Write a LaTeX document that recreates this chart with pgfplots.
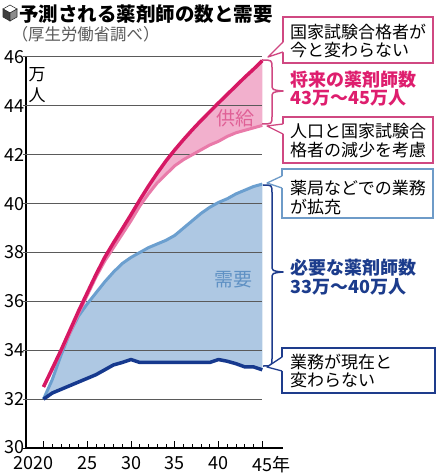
\documentclass[border=0pt]{standalone}
\usepackage{fontspec}
\setmainfont{Noto Sans CJK JP}
\usepackage{pgfplots}
\usepackage{pgfplotstable}
\pgfplotsset{compat=1.18}
\usepgfplotslibrary{fillbetween}

\definecolor{supHi}{RGB}{214,24,100}
\definecolor{supLo}{RGB}{233,122,169}
\definecolor{supFill}{RGB}{242,176,205}
\definecolor{demHi}{RGB}{107,159,207}
\definecolor{demLo}{RGB}{22,57,142}
\definecolor{demFill}{RGB}{174,200,227}
\definecolor{pinkBox}{RGB}{208,72,130}
\definecolor{blueBox}{RGB}{110,155,200}
\definecolor{navyBox}{RGB}{30,60,140}
\definecolor{pinkTxt}{RGB}{222,30,110}
\definecolor{navyTxt}{RGB}{28,60,140}
\definecolor{gridc}{RGB}{90,90,90}

% supply (pharmacists), 10,000 persons
\pgfplotstableread{
year hi lo
2020 32.5 32.5
2021 33.25 33.2
2022 34.0 33.95
2023 34.8 34.7
2024 35.6 35.5
2025 36.35 36.25
2026 37.1 37.0
2027 37.8 37.65
2028 38.4 38.2
2029 38.97 38.75
2030 39.55 39.3
2031 40.15 39.9
2032 40.72 40.4
2033 41.25 40.85
2034 41.75 41.2
2035 42.2 41.55
2036 42.62 41.8
2037 43.02 42.0
2038 43.4 42.2
2039 43.76 42.4
2040 44.12 42.55
2041 44.47 42.75
2042 44.82 42.9
2043 45.17 43.0
2044 45.5 43.1
2045 45.85 43.2
}\supply

% demand
\pgfplotstableread{
year hi lo
2020 32.0 32.0
2021 32.8 32.25
2022 33.8 32.4
2023 34.7 32.55
2024 35.4 32.7
2025 35.9 32.85
2026 36.35 33.0
2027 36.8 33.2
2028 37.2 33.4
2029 37.55 33.5
2030 37.8 33.62
2031 38.0 33.5
2032 38.2 33.5
2033 38.35 33.5
2034 38.5 33.5
2035 38.7 33.5
2036 39.0 33.5
2037 39.3 33.5
2038 39.6 33.5
2039 39.85 33.5
2040 40.05 33.62
2041 40.2 33.55
2042 40.4 33.45
2043 40.55 33.32
2044 40.7 33.32
2045 40.8 33.2
}\demand

\newcommand{\fs}[1]{\fontsize{#1bp}{#1bp}\selectfont}

\begin{document}
\begin{tikzpicture}
\begin{axis}[
  at={(26bp,-448bp)}, anchor=south west,
  scale only axis, width=257bp, height=391bp,
  xmin=2018, xmax=2047.37, ymin=30, ymax=46,
  axis x line*=bottom, axis y line*=left,
  axis line style={black, line width=1.2bp, -},
  clip=false,
  xtick={2020,2025,...,2045},
  minor xtick={2021,2022,2023,2024,2026,2027,2028,2029,2031,2032,2033,2034,2036,2037,2038,2039,2041,2042,2043,2044},
  xticklabels={\llap{20}20,25,30,35,40,45\rlap{年}},
  xtick align=inside,
  major tick length=7bp, minor tick length=4bp,
  xtick style={black, line width=1bp},
  ytick={30,32,...,46},
  yticklabels={\raisebox{3bp}{30},32,34,36,38,40,42,44,46},
  ytick style={draw=none},
  tick label style={font=\fs{18}, black},
  yticklabel style={inner xsep=1bp, inner ysep=0bp},
  xticklabel style={inner ysep=0bp, yshift=-8bp},
  /pgf/number format/assume math mode=true,
]
\addplot[draw=none, name path=dhi, forget plot] table[x=year, y=hi] {\demand};
\addplot[draw=none, name path=dlo, forget plot] table[x=year, y=lo] {\demand};
\addplot[demFill] fill between[of=dhi and dlo];
\addplot[draw=none, name path=shi, forget plot] table[x=year, y=hi] {\supply};
\addplot[draw=none, name path=slo, forget plot] table[x=year, y=lo] {\supply};
\addplot[supFill] fill between[of=shi and slo];

\pgfplotsinvokeforeach{32,34,...,46}{
  \draw[gridc, line width=1bp] (axis cs:2017.66,#1) -- (axis cs:2045,#1);
}
\draw[black, line width=1bp] (axis cs:2017.66,30) -- (axis cs:2018,30);

\addplot[demHi, line width=3bp, line join=round] table[x=year, y=hi] {\demand};
\addplot[demLo, line width=3.5bp, line join=round] table[x=year, y=lo] {\demand};
\addplot[supLo, line width=3bp, line join=round] table[x=year, y=lo] {\supply};
\addplot[supHi, line width=3.5bp, line join=round] table[x=year, y=hi] {\supply};
\end{axis}

\begin{scope}[x=1bp, y=-1bp]
\path[use as bounding box] (0,0) rectangle (436,473);

% cube icon
\filldraw[draw=black!80, line width=0.6bp, fill=white] (10,5) -- (17,9) -- (10,13) -- (3,9) -- cycle;
\filldraw[draw=black!80, line width=0.6bp, fill=black!75] (3,9) -- (10,13) -- (10,21) -- (3,17) -- cycle;
\filldraw[draw=black!80, line width=0.6bp, fill=black!45] (10,13) -- (17,9) -- (17,17) -- (10,21) -- cycle;

% title
\node[anchor=west, inner sep=0pt] at (19,14) {\fs{19.5}\bfseries 予測される薬剤師の数と需要};
\node[anchor=west, inner sep=0pt, text=black!65] at (11.6,34) {\fs{16.4}（厚生労働省調べ）};

% unit
\node[inner sep=0pt] at (37,75) {\fs{17}万};
\node[inner sep=0pt] at (37,95) {\fs{17}人};

% series labels
\node[inner sep=0pt, text={rgb,255:red,224;green,96;blue,150}] at (235,118) {\fs{19}供給};
\node[inner sep=0pt, text={rgb,255:red,95;green,145;blue,196}] at (233,280) {\fs{19}需要};

% box 1
\draw[pinkBox, line width=1.3bp, fill=white] (283,17) rectangle (433,63);
\fill[white] (284,42) -- (268,57) -- (284,52) -- cycle;
\draw[pinkBox, line width=1.3bp, line join=round] (283,42) -- (268,57) -- (283,52);
\node[anchor=west, inner sep=0pt] at (290,32) {\fs{17}国家試験合格者が};
\node[anchor=west, inner sep=0pt] at (290,50) {\fs{17}今と変わらない};

% supply brace
\draw[pinkBox, line width=1.5bp, line join=round]
  (262,60) .. controls (272,60) .. (272,68) -- (272,84)
  .. controls (272,90) .. (283,91) .. controls (272,92) .. (272,98)
  -- (272,116) .. controls (272,124) .. (262,124);
\node[anchor=west, inner sep=0pt, text=pinkTxt] at (290,80) {\fs{18}\bfseries 将来の薬剤師数};
\node[anchor=west, inner sep=0pt, text=pinkTxt] at (290,98) {\fs{18}\bfseries 43万～45万人};

% box 3
\draw[pinkBox, line width=1.3bp, fill=white] (283,117) rectangle (433,163);
\fill[white] (284,124) -- (267,126) -- (284,134) -- cycle;
\draw[pinkBox, line width=1.3bp, line join=round] (283,124) -- (267,126) -- (283,134);
\node[anchor=west, inner sep=0pt] at (290,131) {\fs{17}人口と国家試験合};
\node[anchor=west, inner sep=0pt] at (290,150) {\fs{17}格者の減少を考慮};

% box 4
\draw[blueBox, line width=1.3bp, fill=white] (282,169) rectangle (433,218);
\fill[white] (283,176) -- (267,183) -- (283,188) -- cycle;
\draw[blueBox, line width=1.3bp, line join=round] (282,176) -- (267,183) -- (282,188);
\node[anchor=west, inner sep=0pt] at (290,188) {\fs{17}薬局などでの業務};
\node[anchor=west, inner sep=0pt] at (290,207) {\fs{17}が拡充};

% demand brace
\draw[navyBox, line width=1.5bp, line join=round]
  (263,185) .. controls (272,185) .. (272,193) -- (272,265)
  .. controls (272,271) .. (283,272) .. controls (272,273) .. (272,279)
  -- (272,358) .. controls (272,366) .. (263,366);
\node[anchor=west, inner sep=0pt, text=navyTxt] at (290,268) {\fs{18}\bfseries 必要な薬剤師数};
\node[anchor=west, inner sep=0pt, text=navyTxt] at (290,287) {\fs{18}\bfseries 33万～40万人};

% box 6
\draw[navyBox, line width=1.3bp, fill=white] (282,348) rectangle (435,393);
\fill[white] (283,357) -- (267,367) -- (283,371) -- cycle;
\draw[navyBox, line width=1.3bp, line join=round] (282,357) -- (267,367) -- (282,371);
\node[anchor=west, inner sep=0pt] at (290,362) {\fs{17}業務が現在と};
\node[anchor=west, inner sep=0pt] at (290,380) {\fs{17}変わらない};
\end{scope}
\end{tikzpicture}
\end{document}
